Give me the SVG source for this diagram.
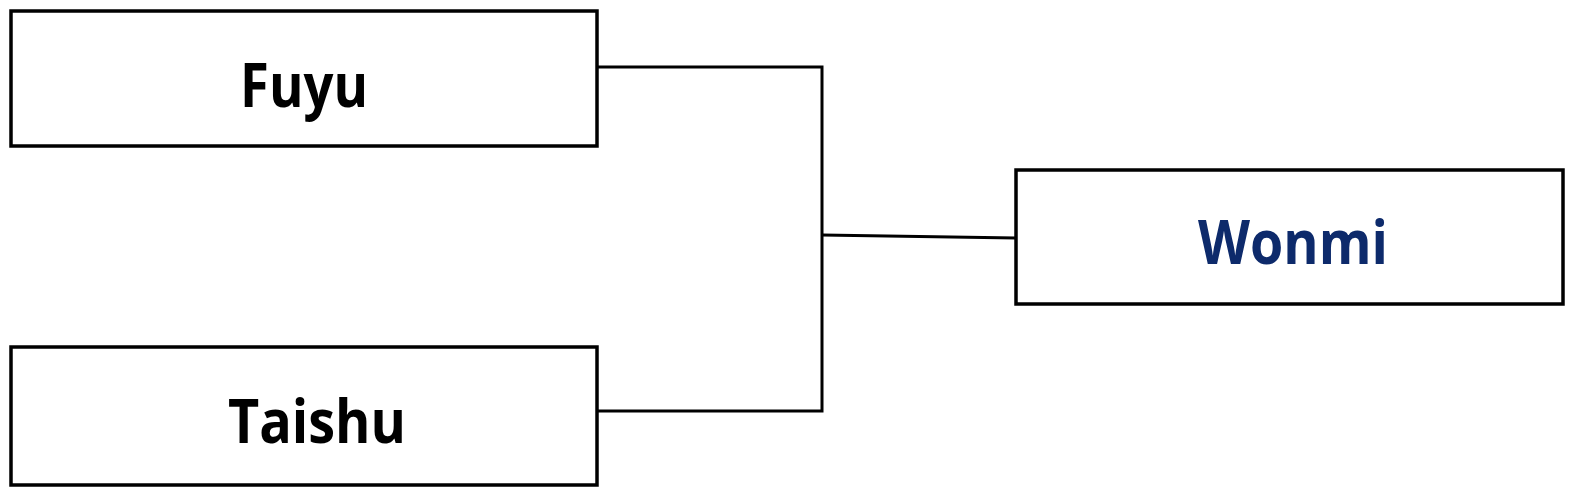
<svg xmlns="http://www.w3.org/2000/svg" width="1575" height="494" viewBox="0 0 1575 494">
<style>
.box{fill:#fff;stroke:#000;stroke-width:3.5}
.lbl{font-family:"Open Sans","Liberation Sans",Arial,sans-serif;font-weight:bold;font-size:60px;text-anchor:middle}
.conn{fill:none;stroke:#000;stroke-width:3}
</style>
<rect width="1575" height="494" fill="#fff"/>
<g id="connectors">
<polyline class="conn" points="597,67 822,67 822,411 597,411"/>
<line class="conn" x1="822" y1="235" x2="1016" y2="238"/>
</g>
<g id="fuyu">
<rect class="box" x="11" y="11" width="586" height="135"/>
<text class="lbl" x="304" y="107" textLength="128" lengthAdjust="spacingAndGlyphs">Fuyu</text>
</g>
<g id="taishu">
<rect class="box" x="11" y="347" width="586" height="138"/>
<text class="lbl" x="317" y="443" textLength="178" lengthAdjust="spacingAndGlyphs">Taishu</text>
</g>
<g id="wonmi">
<rect class="box" x="1016" y="170" width="547" height="134"/>
<text class="lbl" x="1293" y="264" textLength="190" lengthAdjust="spacingAndGlyphs" fill="#0d2a6b">Wonmi</text>
</g>
</svg>
